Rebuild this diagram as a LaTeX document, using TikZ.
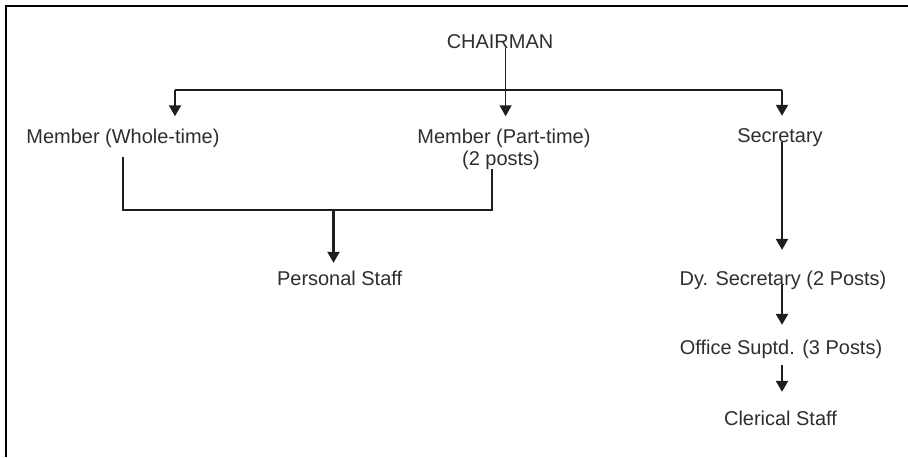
\documentclass[tikz,border=0pt]{standalone}
\usepackage{fontspec}
\setmainfont{Liberation Sans}
\usetikzlibrary{arrows.meta}

\definecolor{textgrey}{HTML}{2E2E2E}
\definecolor{linegrey}{HTML}{1E1E1E}

\tikzset{
  post/.style={inner sep=0pt, anchor=base, text=textgrey,
    font=\fontsize{14.2}{17}\selectfont},
  link/.style={draw=linegrey, line width=1.07pt},
  arrowlink/.style={link, line width=1.6pt,
    -{Triangle[length=0.275cm,width=0.3cm]}}
}

\begin{document}
\begin{tikzpicture}
 \useasboundingbox (0,0) rectangle (22.7,-11.425);

 % Frame, only top and left edges show
 \draw [line width=1.5pt] (0.15,-11.425) -- (0.15,-0.15) -- (22.7,-0.15);

 % Head of the chart
 \node [post] (chair) at (12.5,-1.2) {CHAIRMAN};

 % Second level
 \node [post] (whole) at (3.075,-3.575) {Member (Whole-time)};
 \node [post] (part) at (12.6,-3.575) {Member (Part-time)};
 \node [post] (posts) at (12.525,-4.125) {(2 posts)};
 \node [post] (sec) at (19.5,-3.55) {Secretary};

 % Lower levels
 \node [post] (pstaff) at (8.49,-7.125) {Personal Staff};
 \node [post] (dysec) at (19.575,-7.125) {Dy. Secretary (2 Posts)};
 \node [post] (office) at (19.525,-8.85) {Office Suptd. (3 Posts)};
 \node [post] (clerical) at (19.5125,-10.625) {Clerical Staff};

 % Branch points
 \coordinate (split) at (12.64,-2.25);
 \coordinate (toleft) at (4.375,-2.25);
 \coordinate (toright) at (19.55,-2.25);
 \coordinate (join) at (8.3375,-5.25);
 \coordinate (joinR) at (12.3,-5.25);

 % Chairman down to members and secretary
 \draw [link] (toleft) -- (toright);
 \draw [arrowlink, line width=1.07pt, shorten >=0.3cm] (split |- chair.base) -- (split |- part.north);
 \draw [arrowlink, shorten >=0.3cm] (toleft) -- (toleft |- whole.north);
 \draw [arrowlink, shorten >=0.3cm] (toright) -- (toright |- sec.north);

 % Members share the personal staff
 \draw [link, shorten <=0.25cm] (whole.south) |- (joinR) -- (joinR |- posts.south);
 \draw [arrowlink, shorten >=0.185cm] (join) -- (join |- pstaff.north);

 % Secretary's office
 \draw [arrowlink, shorten >=0.51cm] (toright |- sec.base) -- (toright |- dysec.north);
 \draw [arrowlink, shorten >=0.36cm] (toright |- dysec.base) -- (toright |- office.north);
 \draw [arrowlink, shorten <=0.175cm, shorten >=0.46cm] (toright |- office.south) -- (toright |- clerical.north);

\end{tikzpicture}
\end{document}
